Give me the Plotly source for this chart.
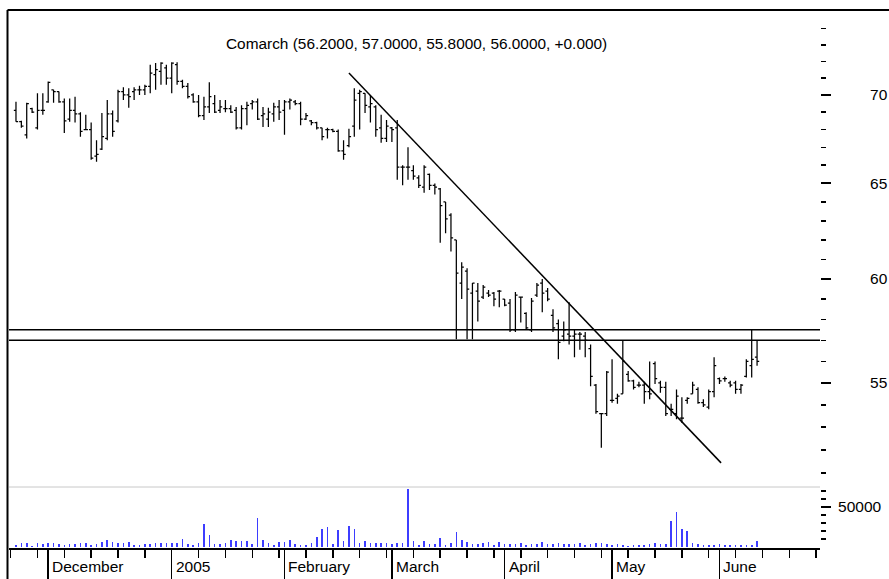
import plotly.graph_objects as go

# ---------------- data ----------------
# bar index = trading day (23 Nov 2004 = 0 ... 10 Jun 2005 = 138)
highs = [69.6, 68.5, 69.55, 69.25, 70.1, 70.1, 70.8, 70.3, 70.2, 69.8,
         69.8, 69.9, 69.0, 68.85, 68.4, 67.4, 68.95, 69.7, 69.1, 70.3,
         70.45, 70.4, 70.45, 70.55, 70.6, 71.8, 71.9, 71.95, 71.8, 71.95,
         71.95, 70.9, 70.7, 70.1, 70.0, 69.9, 70.75, 70.0, 69.7, 69.7,
         69.4, 69.3, 69.4, 69.6, 69.7, 69.8, 69.3, 69.25, 69.55, 69.7,
         69.7, 69.8, 69.7, 69.6, 68.95, 68.55, 68.45, 68.1, 68.1, 68.05,
         68.0, 67.4, 68.05, 70.4, 70.3, 70.1, 70.0, 69.4, 68.85, 68.55,
         68.15, 68.55, 66.0, 67.0, 66.0, 65.45, 66.0, 65.55, 65.0, 64.75,
         64.0, 63.4, 62.0, 60.85, 60.55, 59.8, 59.8, 59.7, 59.45, 59.35,
         59.45, 59.0, 59.0, 59.35, 59.1, 58.35, 59.05, 59.8, 60.0, 59.55,
         58.5, 58.0, 57.9, 58.85, 57.5, 57.4, 57.4, 56.8, 54.95, 53.6,
         55.55, 56.1, 54.5, 57.0, 55.55, 55.15, 55.05, 55.05, 56.0, 56.0,
         55.1, 55.05, 54.05, 54.7, 54.35, 54.35, 55.05, 54.8, 54.25, 54.7,
         56.2, 55.25, 55.3, 55.1, 55.1, 54.95, 56.1, 57.5, 57.0]
lows = [68.45, 68.1, 67.5, 68.95, 68.0, 68.85, 69.55, 69.55, 69.55, 67.8,
        68.45, 68.4, 67.6, 68.0, 66.3, 66.2, 66.85, 67.4, 67.6, 68.4,
        69.7, 69.25, 69.7, 70.0, 70.0, 70.1, 70.3, 70.6, 70.6, 70.1,
        70.6, 70.4, 69.8, 69.55, 68.7, 68.55, 68.95, 68.95, 68.95, 69.0,
        68.95, 68.0, 68.0, 68.25, 69.15, 68.55, 68.15, 68.15, 68.45, 68.55,
        67.7, 69.15, 69.4, 68.25, 68.55, 68.25, 68.0, 67.4, 67.5, 67.85,
        66.75, 66.3, 67.0, 67.6, 68.0, 68.95, 68.4, 67.6, 67.25, 67.3,
        67.3, 65.2, 64.9, 65.2, 65.2, 64.75, 64.5, 64.65, 64.4, 61.85,
        62.35, 61.4, 57.05, 59.0, 57.05, 57.05, 57.9, 59.0, 59.1, 58.65,
        58.6, 58.65, 57.4, 57.4, 57.85, 57.5, 57.4, 59.1, 58.35, 58.9,
        57.4, 56.1, 56.95, 56.8, 56.2, 56.55, 56.2, 54.85, 53.6, 52.1,
        53.5, 54.1, 54.05, 54.5, 55.05, 54.7, 54.8, 54.05, 54.25, 54.95,
        54.55, 53.5, 53.5, 53.35, 53.2, 54.05, 54.5, 54.05, 53.9, 53.8,
        54.35, 54.95, 55.05, 54.8, 54.5, 54.5, 55.25, 55.25, 55.8]
opens = [69.1, 68.45, 67.7, 69.2, 68.1, 69.1, 69.6, 70.3, 70.2, 69.6,
         68.6, 69.1, 68.9, 68.0, 68.0, 66.5, 66.9, 67.5, 68.9, 68.5,
         70.2, 70.0, 70.2, 70.3, 70.3, 70.5, 71.2, 71.4, 71.6, 71.0,
         71.8, 70.8, 70.5, 70.0, 69.6, 68.8, 69.3, 69.5, 69.1, 69.2,
         69.2, 69.1, 68.1, 69.2, 69.5, 69.6, 68.8, 68.6, 68.9, 69.3,
         69.1, 69.6, 69.6, 69.5, 68.6, 68.5, 68.4, 68.1, 68.0, 68.0,
         67.9, 66.8, 67.1, 68.2, 70.1, 70.1, 69.3, 69.3, 68.1, 67.5,
         68.1, 68.1, 65.9, 65.9, 65.7, 65.3, 64.8, 65.5, 64.9, 64.7,
         64.0, 63.3, 62.0, 59.8, 60.4, 59.3, 59.4, 59.1, 59.3, 59.3,
         59.4, 59.0, 58.8, 57.5, 59.1, 58.3, 57.5, 59.2, 59.8, 59.4,
         58.2, 57.8, 57.2, 57.3, 57.2, 57.3, 57.2, 56.6, 54.9, 53.6,
         53.6, 54.2, 54.3, 54.5, 55.4, 55.1, 54.9, 54.9, 54.6, 55.9,
         55.0, 54.8, 53.8, 53.6, 53.4, 54.2, 54.5, 54.7, 54.1, 53.9,
         54.6, 55.2, 55.2, 55.0, 55.0, 54.7, 55.3, 55.8, 56.2]
closes = [68.45, 68.2, 69.5, 69.0, 69.1, 69.1, 70.75, 70.2, 69.6, 68.5,
          69.1, 68.9, 67.9, 68.0, 66.4, 66.6, 67.6, 68.9, 67.9, 70.2,
          70.0, 69.9, 70.3, 70.3, 70.5, 71.3, 71.5, 71.9, 71.0, 71.9,
          70.8, 70.5, 69.9, 69.6, 68.8, 69.3, 69.9, 69.0, 69.3, 69.2,
          69.0, 68.1, 69.2, 69.4, 69.6, 68.6, 68.9, 69.0, 69.3, 69.0,
          69.6, 69.7, 69.5, 68.6, 68.8, 68.4, 68.1, 67.6, 68.0, 67.9,
          66.8, 66.6, 67.6, 69.7, 70.2, 69.4, 69.5, 68.0, 67.5, 68.2,
          68.0, 65.9, 65.9, 65.9, 65.4, 64.9, 65.9, 64.9, 64.8, 63.8,
          63.1, 62.1, 60.3, 60.6, 59.5, 59.8, 58.9, 59.6, 59.2, 59.0,
          59.4, 58.7, 57.5, 59.2, 59.1, 57.6, 58.9, 59.7, 59.3, 59.0,
          57.6, 56.9, 57.5, 57.2, 57.3, 57.3, 57.0, 55.3, 53.7, 53.6,
          55.5, 54.2, 54.4, 56.0, 55.1, 54.8, 54.9, 54.6, 54.5, 55.2,
          54.8, 53.6, 53.8, 54.4, 53.4, 54.3, 54.9, 54.1, 54.0, 54.6,
          55.8, 55.1, 55.2, 54.9, 54.7, 54.9, 56.0, 56.1, 56.0]
volumes = [2100, 4200, 4200, 1300, 4200, 2900, 4200, 4200, 2900, 2100,
           2900, 2900, 4200, 4200, 2100, 2900, 6300, 8300, 6300, 4200,
           4200, 6300, 2100, 2100, 2900, 2900, 4200, 4200, 4200, 4200,
           4200, 9600, 2900, 2100, 4200, 27900, 14600, 2900, 2900, 4200,
           8300, 7100, 7100, 7100, 2900, 36300, 8300, 4200, 2100, 5400,
           6300, 8300, 2900, 2100, 2100, 4200, 12500, 22100, 24200, 3300,
           20800, 7100, 26300, 22100, 5000, 7100, 5000, 5000, 4200, 4200,
           2900, 5000, 5000, 71700, 7100, 2100, 7100, 2900, 2900, 10400,
           2100, 4200, 17900, 8300, 6300, 2900, 2900, 4200, 6300, 2100,
           6300, 2900, 2900, 2900, 4200, 2100, 2900, 2900, 6300, 2900,
           2900, 4200, 2900, 2900, 2900, 4200, 2100, 2900, 4200, 4200,
           2900, 2100, 2900, 2100, 1300, 2100, 2100, 2100, 2900, 4200,
           2900, 2900, 32100, 43800, 22100, 20000, 4200, 2900, 2100, 2100,
           2100, 2900, 2100, 2100, 2100, 2100, 2100, 2100, 7100]
bar_index = list(range(len(highs)))

month_index = [6, 29, 50, 70, 91, 111, 131]
month_labels = ["December", "2005", "February", "March", "April", "May", "June"]

price_ticks = [55, 60, 65, 70]
price_minor = [51, 52, 53, 54, 56, 57, 58, 59, 61, 62, 63, 64, 66, 67, 68, 69, 71, 72, 73, 74]
vol_ticks = [50000]
vol_minor = [10000, 20000, 30000, 40000, 60000, 70000]

trend_x = [62.0, 131.3]
trend_y = [71.3, 51.44]
level_lines = [57.5, 57.0]

title_text = "Comarch (56.2000, 57.0000, 55.8000, 56.0000, +0.000)"

# ---------------- figure ----------------
FONT = "Liberation Sans, Arial, sans-serif"
W, H = 889, 579
ML, MR, MT, MB = 9, 69, 11, 31
PH = H - MT - MB
vol_top = (548 - 487) / PH

fig = go.Figure()
fig.add_trace(go.Ohlc(
    x=bar_index, open=opens, high=highs, low=lows, close=closes,
    increasing=dict(line=dict(color="black", width=1.25)),
    decreasing=dict(line=dict(color="black", width=1.25)),
    tickwidth=0.4, xaxis="x", yaxis="y", showlegend=False, hoverinfo="skip"))
fig.add_trace(go.Scatter(
    x=trend_x, y=trend_y, mode="lines", line=dict(color="black", width=1.5),
    xaxis="x", yaxis="y", showlegend=False, hoverinfo="skip"))
fig.add_trace(go.Bar(
    x=bar_index, y=volumes, width=0.3, marker=dict(color="#3d3dff", line=dict(width=0)),
    xaxis="x", yaxis="y2", showlegend=False, hoverinfo="skip"))

shapes = []
for lv in level_lines:
    shapes.append(dict(type="line", xref="paper", yref="y", x0=0, x1=1, y0=lv, y1=lv,
                       line=dict(color="black", width=1.5)))
# panel separator
shapes.append(dict(type="line", xref="paper", yref="paper", x0=0, x1=1, y0=vol_top, y1=vol_top,
                   line=dict(color="#c8c8c8", width=1)))
# outer frame (left and top)
lx = (7.5 - ML) / (W - ML - MR)
ty = (548 - 10) / PH
shapes.append(dict(type="line", xref="paper", yref="paper", x0=lx, x1=lx, y0=-MB / PH, y1=ty,
                   line=dict(color="black", width=2)))
shapes.append(dict(type="line", xref="paper", yref="paper", x0=lx, x1=(W - ML) / (W - ML - MR),
                   y0=ty, y1=ty, line=dict(color="black", width=2)))

annotations = [dict(text=title_text, xref="paper", yref="paper",
                    x=(416 - ML) / (W - ML - MR), y=(548 - 44) / PH,
                    xanchor="center", yanchor="middle", showarrow=False,
                    font=dict(family=FONT, size=15.4, color="black"))]
for mi, ml in zip(month_index, month_labels):
    annotations.append(dict(text=ml, xref="x", yref="paper", x=mi, y=(548 - 566) / PH,
                            xanchor="left", yanchor="middle", xshift=2, showarrow=False,
                            font=dict(family=FONT, size=15.5, color="black")))

fig.update_layout(
    width=W, height=H, margin=dict(l=ML, r=MR, t=MT, b=MB, autoexpand=False),
    paper_bgcolor="white", plot_bgcolor="white",
    showlegend=False, bargap=0,
    font=dict(family=FONT, size=15.5, color="black"),
    xaxis=dict(range=[-1.3, 149.72], anchor="y2", showgrid=False, zeroline=False,
               showline=True, linecolor="black", linewidth=1.5,
               tickmode="array", tickvals=month_index, ticktext=[""] * len(month_index),
               ticks="outside", ticklen=31, tickwidth=1.5, tickcolor="black",
               minor=dict(tick0=4, dtick=5, ticks="outside", ticklen=8, tickwidth=1.5,
                          tickcolor="black", showgrid=False),
               rangeslider=dict(visible=False), fixedrange=True),
    yaxis=dict(domain=[vol_top, 1], type="log", range=[1.70252, 1.87564],
               side="right", anchor="x", showgrid=False, zeroline=False, showline=False,
               tickmode="array", tickvals=price_ticks, ticktext=[str(v) for v in price_ticks],
               ticks="outside", ticklen=10, tickwidth=2, tickcolor="black",
               ticklabelstandoff=36,
               minor=dict(tickmode="array", tickvals=price_minor, ticks="outside",
                          ticklen=5, tickwidth=1.5, tickcolor="black", showgrid=False),
               tickfont=dict(family=FONT, size=15.5, color="black")),
    yaxis2=dict(domain=[0, vol_top], range=[-1500, 74750],
                side="right", anchor="x", showgrid=False, zeroline=False, showline=False,
                tickmode="array", tickvals=vol_ticks, ticktext=[str(v) for v in vol_ticks],
                ticks="outside", ticklen=10, tickwidth=2, tickcolor="black",
                ticklabelstandoff=4,
                minor=dict(tickmode="array", tickvals=vol_minor, ticks="outside",
                           ticklen=5, tickwidth=1.5, tickcolor="black", showgrid=False),
                tickfont=dict(family=FONT, size=15.5, color="black")),
    shapes=shapes, annotations=annotations,
)

fig.write_html("out.html", config={"displayModeBar": False, "staticPlot": True},
               post_script="document.body.style.margin='0';document.body.style.overflow='hidden';")
